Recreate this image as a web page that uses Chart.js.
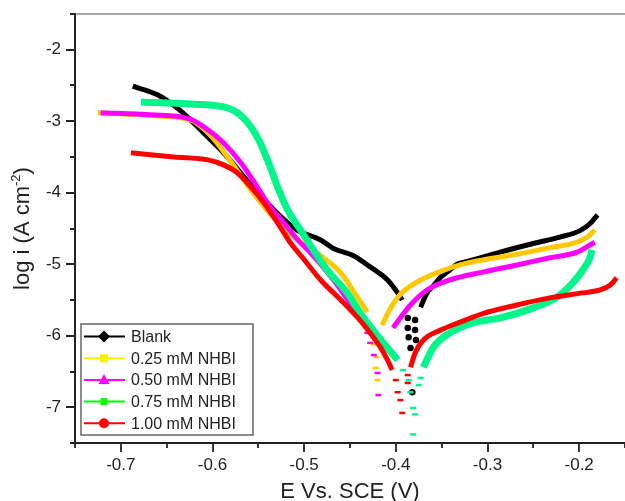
<!DOCTYPE html>
<html>
<head>
<meta charset="utf-8">
<script src="https://cdn.jsdelivr.net/npm/chart.js@4.4.1/dist/chart.umd.min.js"></script>
<style>
  html, body { margin: 0; padding: 0; background: #fff; overflow: hidden; }
  #tafelChart { display: block; }
</style>
</head>
<body>
<canvas id="tafelChart" width="625" height="501"></canvas>
<script>
// axis ticks
const xTicks = [-0.7, -0.6, -0.5, -0.4, -0.3, -0.2];
const xMinorTicks = [-0.75, -0.65, -0.55, -0.45, -0.35, -0.25, -0.15];
const yTicks = [-2, -3, -4, -5, -6, -7];
const yMinorTicks = [-1.5, -2.5, -3.5, -4.5, -5.5, -6.5, -7.5];

const seriesNames = ['Blank', '0.25 mM NHBI', '0.50 mM NHBI', '0.75 mM NHBI', '1.00 mM NHBI'];

// [E (V), log i] - cathodic branch, anodic branch, scattered points near Ecorr
const blankCathodic = [[-0.687, -2.51], [-0.660, -2.63], [-0.638, -2.82], [-0.624, -2.98], [-0.606, -3.21], [-0.588, -3.44], [-0.558, -3.89], [-0.533, -4.24], [-0.508, -4.52], [-0.482, -4.66], [-0.468, -4.78], [-0.446, -4.88], [-0.431, -5.01], [-0.409, -5.22], [-0.398, -5.40], [-0.393, -5.50]];
const blankAnodic = [[-0.373, -5.60], [-0.366, -5.40], [-0.359, -5.30], [-0.351, -5.18], [-0.344, -5.11], [-0.333, -5.00], [-0.322, -4.96], [-0.308, -4.91], [-0.286, -4.83], [-0.250, -4.71], [-0.221, -4.62], [-0.199, -4.53], [-0.188, -4.43], [-0.180, -4.31]];
const blankScatter = [[-0.387, -5.75], [-0.387, -5.89], [-0.386, -6.02], [-0.384, -6.17], [-0.382, -6.79], [-0.379, -5.78], [-0.379, -5.92], [-0.378, -6.06]];

const nhbi025Cathodic = [[-0.725, -2.88], [-0.667, -2.92], [-0.624, -2.98], [-0.602, -3.20], [-0.583, -3.51], [-0.558, -3.96], [-0.531, -4.38], [-0.504, -4.69], [-0.482, -4.88], [-0.460, -5.12], [-0.442, -5.46], [-0.431, -5.67]];
const nhbi025Anodic = [[-0.415, -5.85], [-0.406, -5.62], [-0.395, -5.42], [-0.377, -5.25], [-0.351, -5.10], [-0.330, -5.01], [-0.305, -4.94], [-0.268, -4.86], [-0.232, -4.77], [-0.202, -4.69], [-0.191, -4.62], [-0.183, -4.52]];
const nhbi025Scatter = [[-0.426, -5.95], [-0.424, -6.12], [-0.421, -6.30], [-0.422, -6.45], [-0.420, -6.62]];

const nhbi050Cathodic = [[-0.722, -2.88], [-0.667, -2.91], [-0.624, -2.97], [-0.605, -3.12], [-0.588, -3.30], [-0.569, -3.58], [-0.551, -3.92], [-0.537, -4.20], [-0.522, -4.42], [-0.507, -4.66], [-0.493, -4.84], [-0.471, -5.17], [-0.455, -5.45], [-0.442, -5.70]];
const nhbi050Anodic = [[-0.403, -5.89], [-0.398, -5.80], [-0.384, -5.57], [-0.366, -5.36], [-0.341, -5.22], [-0.305, -5.11], [-0.268, -5.01], [-0.232, -4.91], [-0.202, -4.83], [-0.188, -4.73], [-0.183, -4.69]];
const nhbi050Scatter = [[-0.431, -5.96], [-0.428, -6.10], [-0.424, -6.27], [-0.420, -6.52], [-0.419, -6.83]];

const nhbi075Cathodic = [[-0.678, -2.73], [-0.624, -2.76], [-0.588, -2.80], [-0.573, -2.88], [-0.558, -3.08], [-0.548, -3.30], [-0.537, -3.64], [-0.529, -3.92], [-0.518, -4.24], [-0.504, -4.52], [-0.475, -5.08], [-0.453, -5.40], [-0.439, -5.68], [-0.420, -6.00], [-0.398, -6.34]];
const nhbi075Anodic = [[-0.370, -6.44], [-0.359, -6.16], [-0.341, -5.96], [-0.316, -5.82], [-0.286, -5.75], [-0.250, -5.61], [-0.224, -5.46], [-0.207, -5.26], [-0.196, -5.08], [-0.188, -4.90], [-0.186, -4.80]];
const nhbi075Scatter = [[-0.392, -6.48], [-0.386, -6.62], [-0.384, -6.79], [-0.381, -7.01], [-0.379, -7.10], [-0.381, -7.38], [-0.375, -6.69], [-0.373, -6.59]];

const nhbi100Cathodic = [[-0.689, -3.44], [-0.642, -3.50], [-0.605, -3.54], [-0.588, -3.61], [-0.573, -3.72], [-0.558, -3.92], [-0.544, -4.14], [-0.529, -4.42], [-0.515, -4.70], [-0.501, -4.92], [-0.482, -5.22], [-0.460, -5.50], [-0.442, -5.74], [-0.428, -5.96], [-0.417, -6.16], [-0.409, -6.34], [-0.404, -6.48]];
const nhbi100Anodic = [[-0.384, -6.44], [-0.379, -6.24], [-0.370, -6.06], [-0.351, -5.92], [-0.330, -5.81], [-0.305, -5.69], [-0.268, -5.57], [-0.232, -5.47], [-0.196, -5.40], [-0.177, -5.36], [-0.166, -5.29], [-0.159, -5.19]];
const nhbi100Scatter = [[-0.400, -6.62], [-0.398, -6.79], [-0.395, -6.90], [-0.393, -7.08], [-0.387, -6.66], [-0.387, -6.55]];

const cathodicSets = [blankCathodic, nhbi025Cathodic, nhbi050Cathodic, nhbi075Cathodic, nhbi100Cathodic];
const anodicSets = [blankAnodic, nhbi025Anodic, nhbi050Anodic, nhbi075Anodic, nhbi100Anodic];
const scatterSets = [blankScatter, nhbi025Scatter, nhbi050Scatter, nhbi075Scatter, nhbi100Scatter];

const curveColors = ['#000000', '#FFC800', '#FF00FF', '#00F58A', '#FF0000'];
const curveWidths = [5, 5, 5, 7, 5];
const legendColors = ['#000000', '#FFEE00', '#FF00FF', '#00FF00', '#FF0000'];
const legendShapes = ['diamond', 'square', 'triangle', 'square', 'circle'];
const FONT = '"Liberation Sans", Arial, sans-serif';

const toPoints = arr => arr.map(p => ({ x: p[0], y: p[1] }));

const datasets = [];
seriesNames.forEach((name, i) => {
  const order = seriesNames.length - i; // later series drawn on top
  const lineStyle = {
    borderColor: curveColors[i],
    borderWidth: curveWidths[i],
    pointRadius: 0,
    cubicInterpolationMode: 'monotone',
    fill: false,
    order: order
  };
  datasets.push(Object.assign({ label: name, data: toPoints(cathodicSets[i]) }, lineStyle));
  datasets.push(Object.assign({ label: name + ' anodic', data: toPoints(anodicSets[i]) }, lineStyle));
  datasets.push({
    label: name + ' scatter',
    data: toPoints(scatterSets[i]),
    showLine: false,
    pointStyle: i === 0 ? 'circle' : 'line',
    pointRadius: i === 0 ? 2 : 3,
    pointBorderWidth: 2.5,
    borderColor: curveColors[i],
    backgroundColor: curveColors[i],
    order: order
  });
});

// frame, ticks, titles and inset legend
const framePlugin = {
  id: 'framePlugin',
  afterDraw(chart) {
    const ctx = chart.ctx;
    const area = chart.chartArea;
    const xs = chart.scales.x;
    const ys = chart.scales.y;
    ctx.save();

    // top border
    ctx.strokeStyle = '#8a8a8a';
    ctx.lineWidth = 1.5;
    ctx.beginPath();
    ctx.moveTo(area.left, area.top);
    ctx.lineTo(area.right, area.top);
    ctx.stroke();

    // axis lines
    ctx.strokeStyle = '#222';
    ctx.lineWidth = 2;
    ctx.beginPath();
    ctx.moveTo(area.left, area.top - 1);
    ctx.lineTo(area.left, area.bottom + 1);
    ctx.moveTo(area.left - 1, area.bottom);
    ctx.lineTo(area.right, area.bottom);
    ctx.stroke();

    // tick marks
    ctx.lineWidth = 1.8;
    ctx.beginPath();
    xTicks.forEach(v => {
      const px = Math.round(xs.getPixelForValue(v));
      ctx.moveTo(px, area.bottom);
      ctx.lineTo(px, area.bottom + 9);
    });
    xMinorTicks.forEach(v => {
      const px = Math.round(xs.getPixelForValue(v));
      ctx.moveTo(px, area.bottom);
      ctx.lineTo(px, area.bottom + 5);
    });
    yTicks.forEach(v => {
      const py = Math.round(ys.getPixelForValue(v));
      ctx.moveTo(area.left, py);
      ctx.lineTo(area.left - 9, py);
    });
    yMinorTicks.forEach(v => {
      const py = Math.round(ys.getPixelForValue(v));
      ctx.moveTo(area.left, py);
      ctx.lineTo(area.left - 5, py);
    });
    ctx.stroke();

    // axis titles
    ctx.fillStyle = '#222';
    ctx.font = '22px ' + FONT;
    ctx.textAlign = 'center';
    ctx.textBaseline = 'alphabetic';
    ctx.fillText('E Vs. SCE (V)', (area.left + area.right) / 2, 498);

    ctx.save();
    ctx.translate(29, (area.top + area.bottom) / 2);
    ctx.rotate(-Math.PI / 2);
    const main = 'log i (A cm';
    const sup = '-2';
    const tail = ')';
    ctx.font = '22px ' + FONT;
    const wMain = ctx.measureText(main).width;
    const wTail = ctx.measureText(tail).width;
    ctx.font = '13px ' + FONT;
    const wSup = ctx.measureText(sup).width;
    let tx = -(wMain + wSup + wTail) / 2;
    ctx.textAlign = 'left';
    ctx.font = '22px ' + FONT;
    ctx.fillText(main, tx, 0);
    tx += wMain;
    ctx.font = '13px ' + FONT;
    ctx.fillText(sup, tx, -9);
    tx += wSup;
    ctx.font = '22px ' + FONT;
    ctx.fillText(tail, tx, 0);
    ctx.restore();

    // legend
    const box = { x: 81, y: 324, w: 172, h: 111 };
    ctx.fillStyle = '#fff';
    ctx.fillRect(box.x, box.y, box.w, box.h);
    ctx.strokeStyle = '#666';
    ctx.lineWidth = 1.5;
    ctx.strokeRect(box.x, box.y, box.w, box.h);
    ctx.font = '16px ' + FONT;
    ctx.textAlign = 'left';
    ctx.textBaseline = 'middle';
    seriesNames.forEach((name, i) => {
      const cy = box.y + 12.5 + i * 21.7;
      const col = legendColors[i];
      ctx.strokeStyle = col;
      ctx.lineWidth = 2;
      ctx.beginPath();
      ctx.moveTo(box.x + 3, cy);
      ctx.lineTo(box.x + 44, cy);
      ctx.stroke();
      const mx = box.x + 23;
      ctx.fillStyle = col;
      ctx.beginPath();
      if (legendShapes[i] === 'diamond') {
        ctx.moveTo(mx, cy - 6); ctx.lineTo(mx + 6, cy); ctx.lineTo(mx, cy + 6); ctx.lineTo(mx - 6, cy);
        ctx.closePath();
      } else if (legendShapes[i] === 'square') {
        const s = i === 3 ? 7 : 8;
        ctx.rect(mx - s / 2, cy - s / 2, s, s);
      } else if (legendShapes[i] === 'triangle') {
        ctx.moveTo(mx, cy - 6); ctx.lineTo(mx + 5.5, cy + 4); ctx.lineTo(mx - 5.5, cy + 4);
        ctx.closePath();
      } else {
        ctx.arc(mx, cy, 5, 0, Math.PI * 2);
      }
      ctx.fill();
      ctx.fillStyle = '#222';
      ctx.fillText(name, box.x + 50, cy + 1);
    });

    ctx.restore();
  }
};

const noScalePadding = s => {
  s.paddingTop = 0;
  s.paddingBottom = 0;
  s.paddingLeft = 0;
  s.paddingRight = 0;
};

new Chart(document.getElementById('tafelChart'), {
  type: 'line',
  data: { datasets: datasets },
  options: {
    responsive: false,
    animation: false,
    devicePixelRatio: 1,
    layout: { autoPadding: false, padding: { top: 14, right: 0, left: 0, bottom: 0 } },
    plugins: {
      legend: { display: false },
      tooltip: { enabled: false }
    },
    scales: {
      x: {
        type: 'linear',
        min: -0.75,
        max: -0.15,
        afterBuildTicks: s => { s.ticks = xTicks.map(v => ({ value: v })); },
        afterFit: s => { s.height = 58; noScalePadding(s); },
        grid: { display: false, drawTicks: false },
        border: { display: false },
        ticks: {
          padding: 12,
          color: '#222',
          maxRotation: 0,
          autoSkip: false,
          font: { family: FONT, size: 17 },
          callback: v => v.toFixed(1)
        }
      },
      y: {
        type: 'linear',
        min: -7.5,
        max: -1.5,
        afterBuildTicks: s => { s.ticks = yTicks.map(v => ({ value: v })); },
        afterFit: s => { s.width = 75; noScalePadding(s); },
        grid: { display: false, drawTicks: false },
        border: { display: false },
        ticks: {
          padding: 14,
          color: '#222',
          autoSkip: false,
          font: { family: FONT, size: 17 },
          callback: v => String(v)
        }
      }
    }
  },
  plugins: [framePlugin]
});
</script>
</body>
</html>
